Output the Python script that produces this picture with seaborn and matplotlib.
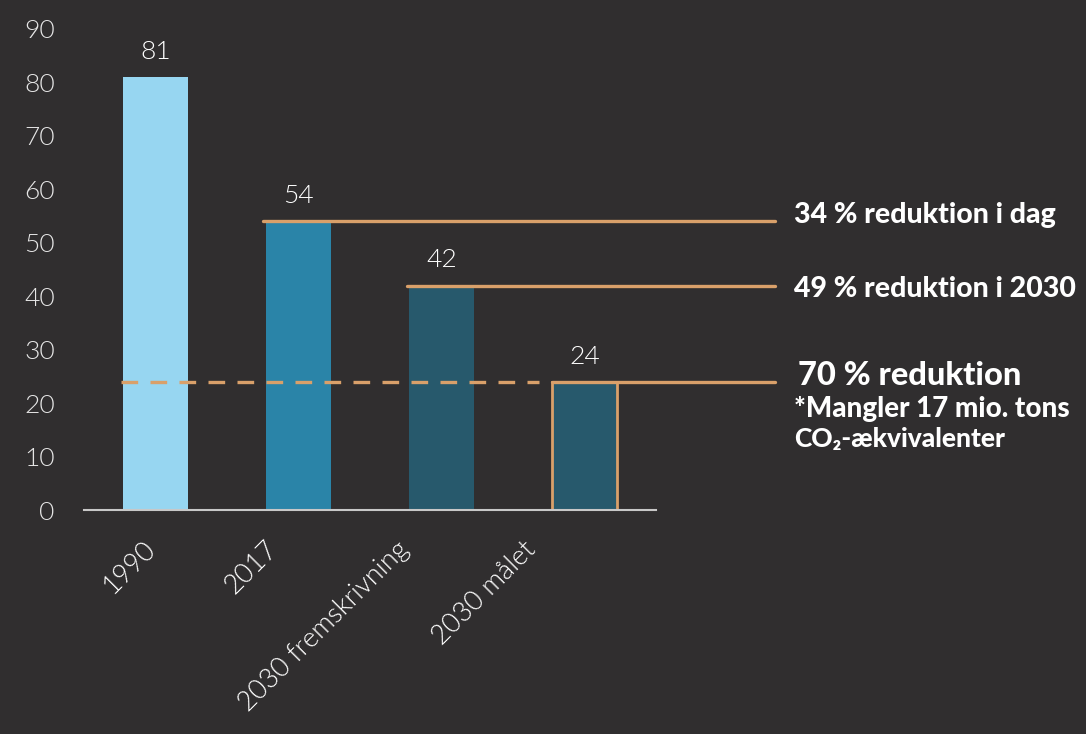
import pandas as pd
import numpy as np
import matplotlib
matplotlib.use('Agg')
import matplotlib.pyplot as plt
import matplotlib.transforms as mtransforms
import seaborn as sns

# Data
categories = ['1990', '2017', '2030 fremskrivning', '2030 målet']
values = [81, 54, 42, 24]
bar_colors = ['#97D6F1', '#2A84A8', '#27596C', '#27596C']
notes = ['34 % reduktion i dag', '49 % reduktion i 2030', '70 % reduktion']
sub_notes = ['*Mangler 17 mio. tons', 'CO₂-ækvivalenter']
yticks = [0, 10, 20, 30, 40, 50, 60, 70, 80, 90]

bg = '#302E2F'
orange = '#D9A06A'

sns.set_style('dark')
plt.rcParams['font.family'] = ['Lato', 'DejaVu Sans']

df = pd.DataFrame({'cat': categories, 'val': values})

fig = plt.figure(figsize=(10.86, 7.34), dpi=100, facecolor=bg)
ax = fig.add_axes([0.0773, 0.305, 0.604 - 0.0773, 0.9605 - 0.305])
ax.set_facecolor(bg)

sns.barplot(data=df, x='cat', y='val', hue='cat', order=categories,
            palette=dict(zip(categories, bar_colors)), width=0.45,
            legend=False, ax=ax, saturation=1, linewidth=0)

# orange edge on the target bar
last = ax.patches[3]
last.set_edgecolor(orange)
last.set_linewidth(2)

ax.set_ylim(0, 90)
ax.set_xlim(-0.5, 3.5)
ax.set_yticks(yticks)
ax.set_xlabel('')
ax.set_ylabel('')
ax.grid(False)
for s in ['top', 'right', 'left']:
    ax.spines[s].set_visible(False)
ax.spines['bottom'].set_color('#C8C8C8')
ax.spines['bottom'].set_linewidth(1.5)
ax.tick_params(length=0)
ax.tick_params(axis='y', colors='#E6E6E6', labelsize=19, pad=21)
for lab in ax.get_yticklabels():
    lab.set_fontweight(300)

# rotated category labels, nudged left like the original
ax.set_xticks(range(len(categories)))
ax.set_xticklabels(categories, rotation=45, ha='right', va='top',
                   rotation_mode='anchor', color='white', fontsize=19.5,
                   fontweight=300)
ax.tick_params(axis='x', pad=19)
nudges = [-13, -34, -45, -62]
for lab, dx in zip(ax.get_xticklabels(), nudges):
    lab.set_transform(lab.get_transform() +
                      mtransforms.ScaledTranslation(dx / 100, 0, fig.dpi_scale_trans))

# value labels
for i, v in enumerate(values):
    ax.text(i, v + 3.4, str(v), ha='center', va='baseline', color='white',
            fontsize=19, fontweight=300)

# reference lines
x_end = 4.33
lw = 2.4
ax.plot([0.75, x_end], [values[1], values[1]], color=orange, lw=lw, clip_on=False)
ax.plot([1.76, x_end], [values[2], values[2]], color=orange, lw=lw, clip_on=False)
ax.plot([2.77, x_end], [values[3], values[3]], color=orange, lw=lw, clip_on=False)
ax.plot([-0.24, 2.68], [values[3], values[3]], color=orange, lw=lw,
        linestyle=(0, (5.0, 3.7)), clip_on=False)

# annotations
x_txt = 4.467
kw = dict(color='white', fontweight='black', va='baseline', ha='left', clip_on=False)
ax.text(x_txt, values[1] - 0.3, notes[0], fontsize=20.5, **kw)
ax.text(x_txt, values[2] - 2.1, notes[1], fontsize=20.5, **kw)
ax.text(x_txt + 0.025, values[3] - 0.6, notes[2], fontsize=23.5, **kw)
ax.text(x_txt, values[3] - 6.6, sub_notes[0], fontsize=20, **kw)
ax.text(x_txt, values[3] - 12.2, sub_notes[1], fontsize=19, **kw)

fig.savefig('out.png', dpi=100, facecolor=bg)
